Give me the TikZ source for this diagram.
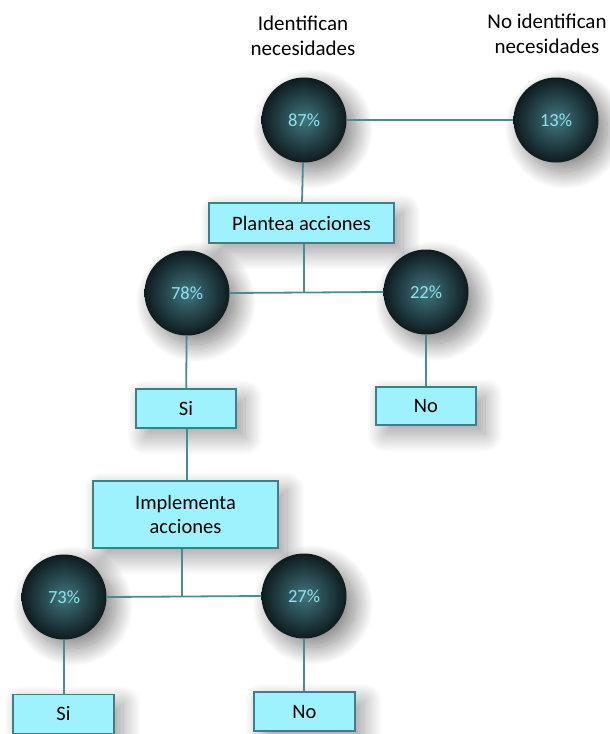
\documentclass[tikz,border=0pt]{standalone}
\usepackage{fontspec}
\setmainfont{Carlito}
\usetikzlibrary{shadows.blur}
\definecolor{linec}{HTML}{4A8B96}
\definecolor{boxfill}{HTML}{9EF2FD}
\definecolor{boxdraw}{HTML}{3E7F8A}
\definecolor{ballin}{HTML}{41767F}
\definecolor{ballout}{HTML}{0E1B1F}
\definecolor{pctc}{HTML}{8EE3EF}
\tikzset{
  ball/.style={circle, minimum size=85pt, inner sep=0pt, inner color=ballin, outer color=ballout,
    text=pctc, font=\fontsize{18.5}{21}\selectfont,
    blur shadow={shadow xshift=9pt, shadow yshift=-9pt, shadow blur radius=18pt, shadow blur steps=30, shadow opacity=50}},
  tbox/.style={rectangle, draw=boxdraw, line width=1.2pt, fill=boxfill, inner sep=0pt,
    font=\fontsize{20.5}{24}\selectfont, align=center,
    blur shadow={shadow xshift=9pt, shadow yshift=-9pt, shadow blur radius=18pt, shadow blur steps=30, shadow opacity=40}},
  conn/.style={draw=linec, line width=1.8pt},
  lab/.style={align=center, font=\fontsize{21}{24.5}\selectfont}
}
\begin{document}
\begin{tikzpicture}[x=1pt,y=-1pt]
\useasboundingbox (0,0) rectangle (610,734);
% nodes
\node[lab] (l1) at (303,36) {Identifican\\necesidades};
\node[lab] (l2) at (547,34) {No identifican\\necesidades};
\node[ball] (c87) at (304,120) {87\%};
\node[ball] (c13) at (556,120) {13\%};
\node[tbox, minimum width=185pt, minimum height=40pt] (bpl) at (301.5,223) {Plantea acciones};
\node[ball] (c78) at (187,293) {78\%};
\node[ball] (c22) at (426,292) {22\%};
\node[tbox, minimum width=100pt, minimum height=39pt] (si1) at (186,408.5) {Si};
\node[tbox, minimum width=100pt, minimum height=38pt] (no1) at (426,406) {No};
\node[tbox, minimum width=185pt, minimum height=67pt] (impl) at (185.5,514.5) {Implementa\\acciones};
\node[ball] (c73) at (64,597) {73\%};
\node[ball] (c27) at (304,596) {27\%};
\node[tbox, minimum width=101pt, minimum height=39pt] (si2) at (63.5,714) {Si};
\node[tbox, minimum width=101pt, minimum height=39pt] (no2) at (304.5,711.5) {No};
\coordinate (j1) at (304,292);
\coordinate (j2) at (182,596.5);
\coordinate (k1) at (187,0);
% connectors
\draw[conn] (c87) -- (c13);
\draw[conn] (c87) -- (bpl);
\draw[conn] (c78.east) -- (c22.west);
\draw[conn] (bpl.south -| j1) -- (j1);
\draw[conn] (c78) -- (si1);
\draw[conn] (c22) -- (no1);
\draw[conn] (si1.south -| k1) -- (impl.north -| k1);
\draw[conn] (c73.east) -- (c27.west);
\draw[conn] (impl.south -| j2) -- (j2);
\draw[conn] (c73) -- (c73 |- si2.north);
\draw[conn] (c27) -- (c27 |- no2.north);
\end{tikzpicture}
\end{document}
